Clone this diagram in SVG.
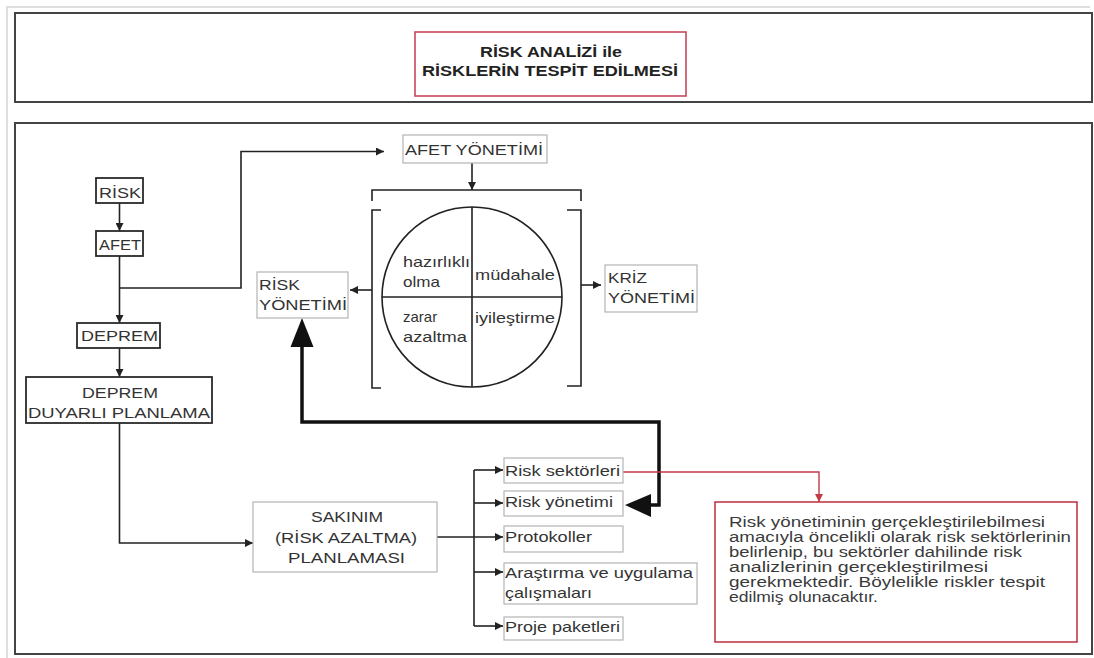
<svg xmlns="http://www.w3.org/2000/svg" width="1094" height="658" viewBox="0 0 1094 658">
<style>
.frame{fill:none;stroke:#444;stroke-width:2}
.faint{fill:none;stroke:#d4d4d4;stroke-width:1.5}
.bk{fill:#fff;stroke:#2a2a2a;stroke-width:1.8}
.gr{fill:#fff;stroke:#b4b4b4;stroke-width:1.2}
.red{fill:#fff;stroke:#c23a48;stroke-width:1.6}
.t{font-family:"Liberation Sans",Arial,sans-serif;font-size:15px;fill:#333}
.tb{font-family:"Liberation Sans",Arial,sans-serif;font-size:14px;font-weight:bold;fill:#222}
.ts{font-family:"Liberation Sans",Arial,sans-serif;font-size:14px;fill:#3a3a3a}
.ln{fill:none;stroke:#222;stroke-width:1.6}
.thick{fill:none;stroke:#111;stroke-width:3.5}
.rln{fill:none;stroke:#c23a48;stroke-width:1.4}
</style>
<defs>
<marker id="ah" viewBox="0 0 10 10" refX="10" refY="5" markerWidth="9" markerHeight="8" markerUnits="userSpaceOnUse" orient="auto">
<path d="M0,0 L10,5 L0,10 Z" fill="#222"/>
</marker>
<marker id="ahr" viewBox="0 0 10 10" refX="10" refY="5" markerWidth="9" markerHeight="8" markerUnits="userSpaceOnUse" orient="auto">
<path d="M0,0 L10,5 L0,10 Z" fill="#c23a48"/>
</marker>
</defs>
<rect width="1094" height="658" fill="#fff"/>
<path class="faint" d="M7,658 L7,7 L1090,7"/>
<rect class="frame" x="15" y="13" width="1077" height="89"/>
<rect class="frame" x="15" y="123" width="1077" height="531"/>

<g id="title">
<rect x="415" y="32" width="271" height="64" fill="#fff" stroke="#c7475a" stroke-width="1.6"/>
<text class="tb" x="480" y="57" textLength="142" lengthAdjust="spacingAndGlyphs">RİSK ANALİZİ ile</text>
<text class="tb" x="422" y="76" textLength="256" lengthAdjust="spacingAndGlyphs">RİSKLERİN TESPİT EDİLMESİ</text>
</g>

<g id="connectors">
<path class="ln" d="M119.5,203 L119.5,231" marker-end="url(#ah)"/>
<path class="ln" d="M119.5,256 L119.5,323" marker-end="url(#ah)"/>
<path class="ln" d="M119.5,288 L241,288 L241,151.5 L384,151.5" marker-end="url(#ah)"/>
<path class="ln" d="M119.5,348 L119.5,377" marker-end="url(#ah)"/>
<path class="ln" d="M119.5,423 L119.5,543 L253,543" marker-end="url(#ah)"/>
<path class="ln" d="M472,163 L472,190" marker-end="url(#ah)"/>
<path class="ln" d="M372,201 L372,190 L581,190 L581,201"/>
<path class="ln" d="M381,210 L372,210 L372,388 L381,388"/>
<path class="ln" d="M567,210 L581,210 L581,386 L567,386"/>
<path class="ln" d="M372,290 L350,290" marker-end="url(#ah)"/>
<path class="ln" d="M581,285 L601,285" marker-end="url(#ah)"/>
<path class="ln" d="M437,537 L503,537" marker-end="url(#ah)"/>
<path class="ln" d="M474,470 L474,626"/>
<path class="ln" d="M474,470 L503,470" marker-end="url(#ah)"/>
<path class="ln" d="M474,503 L503,503" marker-end="url(#ah)"/>
<path class="ln" d="M474,572 L503,572" marker-end="url(#ah)"/>
<path class="ln" d="M474,626 L503,626" marker-end="url(#ah)"/>
<path class="thick" d="M648,505 L659,505 L659,422 L302,422 L302,345"/>
<polygon points="302,318 290.5,347 313.5,347" fill="#111"/>
<polygon points="625,505 651,494 651,517" fill="#111"/>
<path class="rln" d="M623,472 L819,472 L819,502" marker-end="url(#ahr)"/>
</g>

<g id="risk">
<rect class="bk" x="96" y="178" width="47" height="25"/>
<text class="t" x="99" y="198" textLength="42" lengthAdjust="spacingAndGlyphs">RİSK</text>
</g>
<g id="afet">
<rect class="bk" x="96" y="231" width="47" height="25"/>
<text class="t" x="99" y="250" textLength="42" lengthAdjust="spacingAndGlyphs">AFET</text>
</g>
<g id="deprem">
<rect class="bk" x="77" y="323" width="83" height="25"/>
<text class="t" x="81" y="341" textLength="77" lengthAdjust="spacingAndGlyphs">DEPREM</text>
</g>
<g id="deprem-duyarli">
<rect class="bk" x="26" y="377" width="186" height="46"/>
<text class="t" x="82" y="398" textLength="76" lengthAdjust="spacingAndGlyphs">DEPREM</text>
<text class="t" x="28" y="418" textLength="182" lengthAdjust="spacingAndGlyphs">DUYARLI PLANLAMA</text>
</g>
<g id="sakinim">
<rect class="gr" x="253" y="502" width="184" height="70"/>
<text class="t" x="311" y="522" textLength="72" lengthAdjust="spacingAndGlyphs">SAKINIM</text>
<text class="t" x="275" y="543" textLength="142" lengthAdjust="spacingAndGlyphs">(RİSK AZALTMA)</text>
<text class="t" x="288" y="563" textLength="117" lengthAdjust="spacingAndGlyphs">PLANLAMASI</text>
</g>
<g id="afet-yonetimi">
<rect class="gr" x="403" y="135" width="144" height="28"/>
<text class="t" x="405" y="155" textLength="138" lengthAdjust="spacingAndGlyphs">AFET YÖNETİMİ</text>
</g>
<g id="risk-yonetimi">
<rect class="gr" x="257" y="272" width="91" height="46"/>
<text class="t" x="259" y="290" textLength="41" lengthAdjust="spacingAndGlyphs">RİSK</text>
<text class="t" x="259" y="310" textLength="88" lengthAdjust="spacingAndGlyphs">YÖNETİMİ</text>
</g>
<g id="kriz-yonetimi">
<rect class="gr" x="605" y="265" width="92" height="47"/>
<text class="t" x="608" y="283" textLength="39" lengthAdjust="spacingAndGlyphs">KRİZ</text>
<text class="t" x="608" y="303" textLength="87" lengthAdjust="spacingAndGlyphs">YÖNETİMİ</text>
</g>
<g id="cycle">
<circle cx="472" cy="297" r="90" fill="#fff" stroke="#222" stroke-width="1.6"/>
<path class="ln" d="M472,207 L472,387 M382,297 L562,297"/>
<text class="t" x="403" y="267" textLength="67" lengthAdjust="spacingAndGlyphs">hazırlıklı</text>
<text class="t" x="403" y="287" textLength="37" lengthAdjust="spacingAndGlyphs">olma</text>
<text class="t" x="475" y="280" textLength="80" lengthAdjust="spacingAndGlyphs">müdahale</text>
<text class="t" x="403" y="322">zarar</text>
<text class="t" x="403" y="342" textLength="64" lengthAdjust="spacingAndGlyphs">azaltma</text>
<text class="t" x="475" y="323" textLength="80" lengthAdjust="spacingAndGlyphs">iyileştirme</text>
</g>
<g id="risk-sektorleri">
<rect class="gr" x="504" y="458" width="119" height="25"/>
<text class="t" x="505" y="476" textLength="115" lengthAdjust="spacingAndGlyphs">Risk sektörleri</text>
</g>
<g id="risk-yonetimi-2">
<rect class="gr" x="504" y="491" width="119" height="25"/>
<text class="t" x="505" y="507" textLength="108" lengthAdjust="spacingAndGlyphs">Risk yönetimi</text>
</g>
<g id="protokoller">
<rect class="gr" x="504" y="526" width="119" height="26"/>
<text class="t" x="505" y="542" textLength="87" lengthAdjust="spacingAndGlyphs">Protokoller</text>
</g>
<g id="arastirma">
<rect class="gr" x="504" y="563" width="193" height="41"/>
<text class="t" x="505" y="578" textLength="188" lengthAdjust="spacingAndGlyphs">Araştırma ve uygulama</text>
<text class="t" x="505" y="598" textLength="87" lengthAdjust="spacingAndGlyphs">çalışmaları</text>
</g>
<g id="proje">
<rect class="gr" x="504" y="617" width="119" height="23"/>
<text class="t" x="505" y="632" textLength="115" lengthAdjust="spacingAndGlyphs">Proje paketleri</text>
</g>
<g id="note">
<rect class="red" x="715" y="502" width="362" height="140"/>
<text class="ts" x="729" y="527" textLength="316" lengthAdjust="spacingAndGlyphs">Risk yönetiminin gerçekleştirilebilmesi</text>
<text class="ts" x="729" y="542" textLength="342" lengthAdjust="spacingAndGlyphs">amacıyla öncelikli olarak risk sektörlerinin</text>
<text class="ts" x="729" y="557" textLength="293" lengthAdjust="spacingAndGlyphs">belirlenip, bu sektörler dahilinde risk</text>
<text class="ts" x="729" y="572" textLength="259" lengthAdjust="spacingAndGlyphs">analizlerinin gerçekleştirilmesi</text>
<text class="ts" x="729" y="587" textLength="316" lengthAdjust="spacingAndGlyphs">gerekmektedir. Böylelikle riskler tespit</text>
<text class="ts" x="729" y="602" textLength="149" lengthAdjust="spacingAndGlyphs">edilmiş olunacaktır.</text>
</g>
</svg>
